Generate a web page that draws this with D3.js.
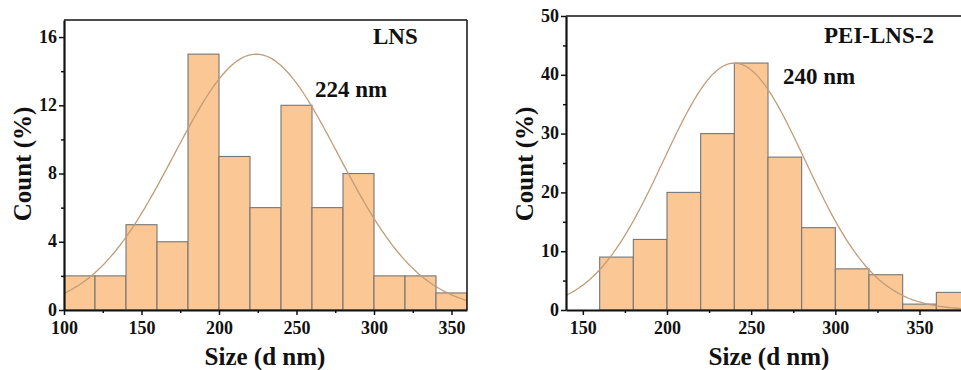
<!DOCTYPE html>
<html>
<head>
<meta charset="utf-8">
<script src="https://cdn.jsdelivr.net/npm/d3@7"></script>
<style>
  body { margin: 0; background: #fff; }
  svg text { font-family: "Liberation Serif", "Times New Roman", serif; font-weight: bold; fill: #111; }
</style>
</head>
<body>
<div id="canvas"></div>
<script>
// LNS panel
const lnsBins = [100, 120, 140, 160, 180, 200, 220, 240, 260, 280, 300, 320, 340];
const lnsCounts = [2, 2, 5, 4, 15, 9, 6, 12, 6, 8, 2, 2, 1];
const lnsXTicks = [100, 150, 200, 250, 300, 350];
const lnsYTicks = [0, 4, 8, 12, 16];
const lnsFit = { mean: 224, peak: 15, sigma: 53 };

// PEI-LNS-2 panel
const peiBins = [160, 180, 200, 220, 240, 260, 280, 300, 320, 340, 360];
const peiCounts = [9, 12, 20, 30, 42, 26, 14, 7, 6, 1, 3];
const peiXTicks = [150, 200, 250, 300, 350];
const peiYTicks = [0, 10, 20, 30, 40, 50];
const peiFit = { mean: 240, peak: 42, sigma: 42 };

const binWidth = 20;
const w = 961;
const h = 370;

const svg = d3.select('#canvas')
  .append('svg')
  .attr('width', w)
  .attr('height', h);

function drawPanel(opt) {
  const g = svg.append('g');
  const x = d3.scaleLinear().domain(opt.xDomain).range([opt.left, opt.right]);
  const y = d3.scaleLinear().domain(opt.yDomain).range([opt.bottom, opt.top]);

  const clipId = 'clip-' + opt.id;
  svg.append('clipPath').attr('id', clipId)
    .append('rect')
    .attr('x', opt.left).attr('y', opt.top)
    .attr('width', opt.right - opt.left).attr('height', opt.bottom - opt.top);

  const plot = g.append('g').attr('clip-path', 'url(#' + clipId + ')');

  plot.selectAll('rect.bar')
    .data(opt.bins.map((b, i) => ({ x0: b, x1: b + binWidth, v: opt.counts[i] })))
    .enter()
    .append('rect')
    .attr('class', 'bar')
    .attr('x', d => x(d.x0))
    .attr('y', d => y(d.v))
    .attr('width', d => x(d.x1) - x(d.x0))
    .attr('height', d => y(0) - y(d.v))
    .attr('fill', '#fbc795')
    .attr('stroke', '#767676')
    .attr('stroke-width', 1.1);

  // gaussian fit curve
  const f = opt.fit;
  const xs = d3.range(opt.xDomain[0], opt.xDomain[1] + 1, 2);
  const line = d3.line()
    .x(d => x(d))
    .y(d => y(f.peak * Math.exp(-((d - f.mean) ** 2) / (2 * f.sigma * f.sigma))));
  plot.append('path')
    .datum(xs)
    .attr('d', line)
    .attr('fill', 'none')
    .attr('stroke', '#c29c78')
    .attr('stroke-width', 1.3);

  // frame
  g.append('line')
    .attr('x1', opt.left).attr('x2', opt.right)
    .attr('y1', opt.top).attr('y2', opt.top)
    .attr('stroke', '#111').attr('stroke-width', 1.5);
  g.append('line')
    .attr('x1', opt.right).attr('x2', opt.right)
    .attr('y1', opt.top).attr('y2', opt.bottom)
    .attr('stroke', '#111').attr('stroke-width', 1.5);

  // minor ticks
  const xStep = opt.xTicks[1] - opt.xTicks[0];
  const xMinor = opt.xTicks.map(t => t + xStep / 2).filter(t => t < opt.xDomain[1]);
  const yStep = opt.yTicks[1] - opt.yTicks[0];
  const yMinor = opt.yTicks.map(t => t + yStep / 2).filter(t => t < opt.yDomain[1]);

  g.append('g')
    .attr('transform', 'translate(0,' + opt.bottom + ')')
    .call(d3.axisBottom(x).tickValues(xMinor).tickSize(3).tickFormat(''))
    .call(s => s.select('.domain').remove());
  g.append('g')
    .attr('transform', 'translate(' + opt.left + ',0)')
    .call(d3.axisLeft(y).tickValues(yMinor).tickSize(3).tickFormat(''))
    .call(s => s.select('.domain').remove());

  const xAxis = g.append('g')
    .attr('transform', 'translate(0,' + opt.bottom + ')')
    .call(d3.axisBottom(x).tickValues(opt.xTicks).tickSize(5).tickSizeOuter(0).tickPadding(4));
  xAxis.selectAll('text').style('font-size', '18px').attr('dy', '0.82em');

  const yAxis = g.append('g')
    .attr('transform', 'translate(' + opt.left + ',0)')
    .call(d3.axisLeft(y).tickValues(opt.yTicks).tickSize(5).tickSizeOuter(0).tickPadding(2));
  yAxis.selectAll('text').style('font-size', '18px').attr('dy', '0.28em');

  g.selectAll('.domain').attr('stroke', '#111').attr('stroke-width', 2.2);
  g.selectAll('.tick line').attr('stroke', '#111').attr('stroke-width', 1.5);

  g.append('text')
    .attr('x', (opt.labelX))
    .attr('y', 365)
    .attr('text-anchor', 'middle')
    .style('font-size', '25px')
    .text('Size (d nm)');

  g.append('text')
    .attr('transform', 'translate(' + opt.yLabelX + ',' + 164 + ') rotate(-90)')
    .attr('text-anchor', 'middle')
    .style('font-size', '25px')
    .text('Count (%)');

  g.append('text')
    .attr('x', opt.nameX).attr('y', opt.nameY)
    .style('font-size', '23px')
    .text(opt.name);

  g.append('text')
    .attr('x', opt.peakX).attr('y', opt.peakY)
    .style('font-size', '23px')
    .text(opt.peakText);
}

drawPanel({
  id: 'lns',
  bins: lnsBins, counts: lnsCounts, fit: lnsFit,
  xTicks: lnsXTicks, yTicks: lnsYTicks,
  xDomain: [100, 360], yDomain: [0, 17],
  left: 64, right: 467, top: 20, bottom: 310,
  labelX: 265, yLabelX: 31,
  name: 'LNS', nameX: 373, nameY: 44,
  peakText: '224 nm', peakX: 315, peakY: 97
});

drawPanel({
  id: 'pei',
  bins: peiBins, counts: peiCounts, fit: peiFit,
  xTicks: peiXTicks, yTicks: peiYTicks,
  xDomain: [140, 380], yDomain: [0, 50],
  left: 566, right: 970, top: 16, bottom: 310,
  labelX: 769, yLabelX: 533,
  name: 'PEI-LNS-2', nameX: 824, nameY: 43,
  peakText: '240 nm', peakX: 783, peakY: 84
});
</script>
</body>
</html>
